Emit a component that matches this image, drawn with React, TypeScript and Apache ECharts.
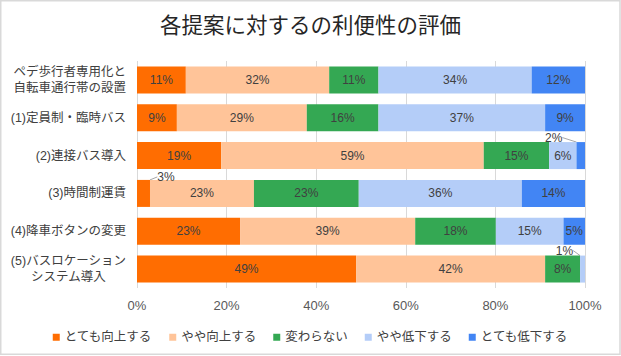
import React, { useEffect, useRef } from 'react';
import * as echarts from 'echarts';

const categories = [
  'ペデ歩行者専用化と\n自転車通行帯の設置',
  '(1)定員制・臨時バス',
  '(2)連接バス導入',
  '(3)時間制運賃',
  '(4)降車ボタンの変更',
  '(5)バスロケーション\nシステム導入',
];
const seriesNames = ['とても向上する', 'やや向上する', '変わらない', 'やや低下する', 'とても低下する'];
const veryImprove = [10.9, 8.9, 18.8, 2.9, 23.0, 48.9];
const slightlyImprove = [32.0, 29.0, 58.6, 23.2, 39.1, 42.2];
const unchanged = [11.0, 16.0, 14.6, 23.4, 18.0, 7.8];
const slightlyWorse = [34.2, 37.2, 6.1, 36.4, 15.1, 1.1];
const veryWorse = [11.9, 8.9, 1.9, 14.1, 4.8, 0];
const xTicks = [0, 20, 40, 60, 80, 100];

const seriesValues = [veryImprove, slightlyImprove, unchanged, slightlyWorse, veryWorse];
const colors = ['#FF6D01', '#FFC499', '#34A853', '#B4CDF8', '#4285F4'];

// labels moved outside their (narrow) bars, with a leader line
const callouts = [
  { series: 0, index: 3, dx: 22.5, dy: -16.5, l0: -11, l1: -18, ex: 0.6, ey: 0 },
  { series: 4, index: 2, dx: -27, dy: -18, l0: 13.5, l1: 23, ex: 0.75, ey: -1 },
  { series: 3, index: 5, dx: -18, dy: -18.5, l0: 8, l1: 15.5, ex: 0.2, ey: -1 },
];

const FONT = '"Liberation Sans", "Noto Sans CJK JP", sans-serif';

export default function App() {
  const ref = useRef<HTMLDivElement>(null);
  useEffect(() => {
    if (!ref.current) return;
    const chart = echarts.init(ref.current, undefined, { renderer: 'svg' });
    const series = seriesValues.map((vals, si) => ({
      name: seriesNames[si],
      type: 'bar',
      stack: 'total',
      barWidth: 27,
      itemStyle: { color: colors[si] },
      label: {
        show: true,
        position: 'inside',
        fontSize: 12,
        color: '#404040',
        fontFamily: FONT,
        formatter: (p: any) => (p.value > 0 ? Math.round(p.value) + '%' : ''),
      },
      data: vals.map((v, di) => {
        const isCallout = callouts.some((c) => c.series === si && c.index === di);
        return isCallout
          ? { value: v, labelLine: { show: true, lineStyle: { color: '#a6a6a6', width: 1 } } }
          : v;
      }),
      labelLayout: (p: any) => {
        const c = callouts.find((q) => q.series === p.seriesIndex && q.index === p.dataIndex);
        if (!c) return {};
        const cx = p.rect.x + p.rect.width / 2 + c.dx;
        const cy = p.rect.y + p.rect.height / 2 + c.dy;
        return {
          x: cx,
          y: cy,
          align: 'center',
          verticalAlign: 'middle',
          labelLinePoints: [
            [cx + c.l0, cy],
            [cx + c.l1, cy],
            [p.rect.x + p.rect.width * c.ex, p.rect.y + c.ey],
          ],
        };
      },
    }));

    chart.setOption({
      animation: false,
      textStyle: { fontFamily: FONT },
      title: {
        text: '各提案に対するの利便性の評価',
        left: 'center',
        top: 15,
        padding: 0,
        textStyle: { fontSize: 21.5, fontWeight: 'normal', color: '#262626', fontFamily: FONT },
      },
      graphic: [
        {
          type: 'rect',
          shape: { x: 0.75, y: 0.75, width: 619.25, height: 353.5 },
          style: { fill: 'none', stroke: '#d9d9d9', lineWidth: 1.5 },
          silent: true,
        },
      ],
      legend: {
        data: seriesNames,
        left: 'center',
        top: 326,
        icon: 'rect',
        itemWidth: 7,
        itemHeight: 7,
        itemGap: 17,
        textStyle: { fontSize: 12.5, color: '#404040', fontFamily: FONT },
      },
      grid: { left: 137, right: 36, top: 61, bottom: 68 },
      xAxis: {
        type: 'value',
        min: xTicks[0],
        max: xTicks[xTicks.length - 1],
        interval: xTicks[1] - xTicks[0],
        axisLine: { show: false },
        axisTick: { show: false },
        splitLine: { lineStyle: { color: '#d9d9d9', width: 1 } },
        axisLabel: { formatter: '{value}%', fontSize: 13, color: '#595959', margin: 11 },
      },
      yAxis: {
        type: 'category',
        inverse: true,
        data: categories,
        axisLine: { show: false },
        axisTick: { show: false },
        axisLabel: {
          margin: 11,
          formatter: (v: string) =>
            v
              .split('\n')
              .map((line) => '{c|' + line + '}')
              .join('\n'),
          rich: {
            c: { fontSize: 12.5, color: '#404040', align: 'center', lineHeight: 16.5, fontFamily: FONT },
          },
        },
      },
      series,
    });
    return () => chart.dispose();
  }, []);
  return (
    <div
      ref={ref}
      style={{ position: 'absolute', left: 0, top: 0, width: 621, height: 356, background: '#fff' }}
    />
  );
}
